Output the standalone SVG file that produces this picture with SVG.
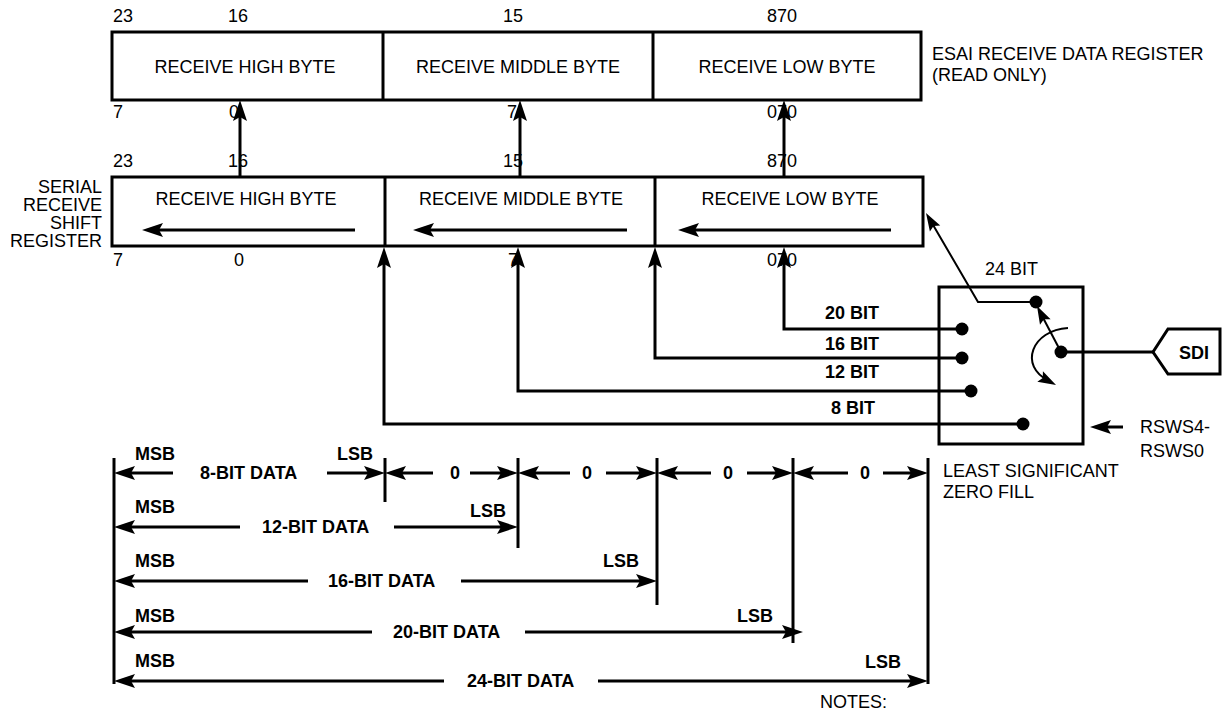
<svg xmlns="http://www.w3.org/2000/svg" xmlns:xlink="http://www.w3.org/1999/xlink" width="1223" height="715" viewBox="0 0 1223 715">
<defs>
<style>
text{font-family:"Liberation Sans",Arial,sans-serif;font-size:18px;fill:#000}
.b{font-weight:bold}
.e{text-anchor:end}
.m{text-anchor:middle}
.box{fill:#fff;stroke:#000;stroke-width:3}
.ln{fill:none;stroke:#000;stroke-width:3}
.th{fill:none;stroke:#000;stroke-width:2}
.hd{fill:#000;stroke:none}
</style>
<path id="h" class="hd" d="M0,0 L-21,-7 L-17,0 L-21,7 Z"/>
<path id="hs" class="hd" d="M0,0 L-18,-6 L-15,0 L-18,6 Z"/>
</defs>
<rect width="1223" height="715" fill="#fff"/>

<g id="esai-register">
<rect class="box" x="112" y="32" width="809" height="68"/>
<line class="ln" x1="383" y1="32" x2="383" y2="100"/>
<line class="ln" x1="653" y1="32" x2="653" y2="100"/>
<text class="m" x="245" y="73">RECEIVE HIGH BYTE</text>
<text class="m" x="518" y="73">RECEIVE MIDDLE BYTE</text>
<text class="m" x="787" y="73">RECEIVE LOW BYTE</text>
<text x="113" y="22">23</text>
<text x="228" y="22">16</text>
<text x="503" y="22">15</text>
<text x="767" y="22">870</text>
<text x="113" y="118">7</text>
<text x="229" y="118">0</text>
<text x="507" y="118">7</text>
<text x="767" y="118">070</text>
<text x="932" y="60">ESAI RECEIVE DATA REGISTER</text>
<text x="932" y="81">(READ ONLY)</text>
</g>

<g id="shift-register">
<rect class="box" x="112" y="177" width="811" height="69"/>
<line class="ln" x1="385" y1="177" x2="385" y2="246"/>
<line class="ln" x1="655" y1="177" x2="655" y2="246"/>
<text class="m" x="246" y="205">RECEIVE HIGH BYTE</text>
<text class="m" x="521" y="205">RECEIVE MIDDLE BYTE</text>
<text class="m" x="790" y="205">RECEIVE LOW BYTE</text>
<line class="ln" x1="355" y1="230" x2="148" y2="230"/>
<line class="ln" x1="627" y1="230" x2="419" y2="230"/>
<line class="ln" x1="891" y1="230" x2="684" y2="230"/>
<use xlink:href="#h" transform="translate(142,230) rotate(180)"/>
<use xlink:href="#h" transform="translate(413,230) rotate(180)"/>
<use xlink:href="#h" transform="translate(678,230) rotate(180)"/>
<text x="113" y="167">23</text>
<text x="228" y="167">16</text>
<text x="503" y="167">15</text>
<text x="767" y="167">870</text>
<text x="113" y="266">7</text>
<text x="234" y="266">0</text>
<text x="508" y="266">7</text>
<text x="767" y="266">070</text>
<text class="e" x="102" y="193">SERIAL</text>
<text class="e" x="102" y="211">RECEIVE</text>
<text class="e" x="102" y="229">SHIFT</text>
<text class="e" x="102" y="247">REGISTER</text>
</g>

<g id="switch">
<rect class="box" x="939" y="287" width="144" height="157"/>
<circle cx="1036" cy="302" r="6.5"/>
<circle cx="962" cy="329" r="6.5"/>
<circle cx="962" cy="358" r="6.5"/>
<circle cx="971" cy="391" r="6.5"/>
<circle cx="1023" cy="424" r="6.5"/>
<circle cx="1061" cy="352" r="6.5"/>
</g>

<g id="sdi">
<polygon class="box" points="1153,352 1168,329 1220,329 1220,374 1168,374"/>
<text class="b m" x="1194" y="359">SDI</text>
</g>

<g id="labels">
<text x="985" y="275">24 BIT</text>
<text class="b e" x="879" y="319">20 BIT</text>
<text class="b e" x="879" y="350">16 BIT</text>
<text class="b e" x="879" y="378">12 BIT</text>
<text class="b e" x="875" y="414">8 BIT</text>
<text x="1140" y="433">RSWS4-</text>
<text x="1140" y="457">RSWS0</text>
<text x="943" y="477">LEAST SIGNIFICANT</text>
<text x="943" y="498">ZERO FILL</text>
<text x="820" y="708">NOTES:</text>
</g>

<g id="connectors">
<line class="ln" x1="240" y1="177" x2="240" y2="106"/>
<line class="ln" x1="520" y1="177" x2="520" y2="106"/>
<line class="ln" x1="784" y1="177" x2="784" y2="106"/>
<use xlink:href="#h" transform="translate(240,100) rotate(-90)"/>
<use xlink:href="#h" transform="translate(520,100) rotate(-90)"/>
<use xlink:href="#h" transform="translate(784,100) rotate(-90)"/>
<polyline class="ln" points="962,329 784,329 784,253"/>
<polyline class="ln" points="962,358 655,358 655,253"/>
<polyline class="ln" points="971,391 518,391 518,253"/>
<polyline class="ln" points="1023,424 384,424 384,253"/>
<use xlink:href="#h" transform="translate(784,247) rotate(-90)"/>
<use xlink:href="#h" transform="translate(655,247) rotate(-90)"/>
<use xlink:href="#h" transform="translate(518,247) rotate(-90)"/>
<use xlink:href="#h" transform="translate(384,247) rotate(-90)"/>
<polyline class="th" points="1036,302 978,302 929,218"/>
<use xlink:href="#hs" transform="translate(926,213) rotate(-120.3)"/>
<line class="ln" x1="1061" y1="352" x2="1153" y2="352"/>
<line class="th" x1="1061" y1="352" x2="1040" y2="312"/>
<use xlink:href="#hs" transform="translate(1037,306) rotate(-117.5)"/>
<path class="th" d="M1068,328 C1032,330 1018,366 1049,381"/>
<use xlink:href="#hs" transform="translate(1056,385) rotate(28)"/>
<line class="ln" x1="1123" y1="427" x2="1096" y2="427"/>
<use xlink:href="#h" transform="translate(1090,427) rotate(180)"/>
</g>

<g id="bit-widths">
<line class="ln" x1="114" y1="458" x2="114" y2="684"/>
<line class="ln" x1="385" y1="458" x2="385" y2="502"/>
<line class="ln" x1="518" y1="458" x2="518" y2="548"/>
<line class="ln" x1="657" y1="458" x2="657" y2="605"/>
<line class="ln" x1="793" y1="458" x2="793" y2="643"/>
<line class="ln" x1="928" y1="458" x2="928" y2="684"/>

<line class="ln" x1="173" y1="473" x2="120" y2="473"/>
<line class="ln" x1="327" y1="473" x2="379" y2="473"/>
<line class="ln" x1="433" y1="473" x2="391" y2="473"/>
<line class="ln" x1="470" y1="473" x2="512" y2="473"/>
<line class="ln" x1="570" y1="473" x2="524" y2="473"/>
<line class="ln" x1="606" y1="473" x2="651" y2="473"/>
<line class="ln" x1="711" y1="473" x2="663" y2="473"/>
<line class="ln" x1="747" y1="473" x2="787" y2="473"/>
<line class="ln" x1="848" y1="473" x2="799" y2="473"/>
<line class="ln" x1="883" y1="473" x2="922" y2="473"/>
<use xlink:href="#h" transform="translate(114,473) rotate(180)"/>
<use xlink:href="#h" transform="translate(385,473)"/>
<use xlink:href="#h" transform="translate(385,473) rotate(180)"/>
<use xlink:href="#h" transform="translate(518,473)"/>
<use xlink:href="#h" transform="translate(518,473) rotate(180)"/>
<use xlink:href="#h" transform="translate(657,473)"/>
<use xlink:href="#h" transform="translate(657,473) rotate(180)"/>
<use xlink:href="#h" transform="translate(793,473)"/>
<use xlink:href="#h" transform="translate(793,473) rotate(180)"/>
<use xlink:href="#h" transform="translate(928,473)"/>
<text class="b" x="135" y="460">MSB</text>
<text class="b" x="200" y="479">8-BIT DATA</text>
<text class="b" x="337" y="460">LSB</text>
<text class="b m" x="455" y="479">0</text>
<text class="b m" x="587" y="479">0</text>
<text class="b m" x="728" y="479">0</text>
<text class="b m" x="865" y="479">0</text>

<line class="ln" x1="240" y1="527" x2="120" y2="527"/>
<line class="ln" x1="394" y1="527" x2="512" y2="527"/>
<use xlink:href="#h" transform="translate(114,527) rotate(180)"/>
<use xlink:href="#h" transform="translate(518,527)"/>
<text class="b" x="135" y="513">MSB</text>
<text class="b" x="262" y="533">12-BIT DATA</text>
<text class="b" x="470" y="517">LSB</text>

<line class="ln" x1="308" y1="581" x2="120" y2="581"/>
<line class="ln" x1="461" y1="581" x2="651" y2="581"/>
<use xlink:href="#h" transform="translate(114,581) rotate(180)"/>
<use xlink:href="#h" transform="translate(657,581)"/>
<text class="b" x="135" y="567">MSB</text>
<text class="b" x="328" y="587">16-BIT DATA</text>
<text class="b" x="603" y="567">LSB</text>

<line class="ln" x1="372" y1="632" x2="120" y2="632"/>
<line class="ln" x1="525" y1="632" x2="797" y2="632"/>
<use xlink:href="#h" transform="translate(114,632) rotate(180)"/>
<use xlink:href="#h" transform="translate(803,632)"/>
<text class="b" x="135" y="622">MSB</text>
<text class="b" x="393" y="638">20-BIT DATA</text>
<text class="b" x="737" y="622">LSB</text>

<line class="ln" x1="444" y1="681" x2="120" y2="681"/>
<line class="ln" x1="598" y1="681" x2="922" y2="681"/>
<use xlink:href="#h" transform="translate(114,681) rotate(180)"/>
<use xlink:href="#h" transform="translate(928,681)"/>
<text class="b" x="135" y="667">MSB</text>
<text class="b" x="467" y="687">24-BIT DATA</text>
<text class="b" x="865" y="668">LSB</text>
</g>
</svg>
